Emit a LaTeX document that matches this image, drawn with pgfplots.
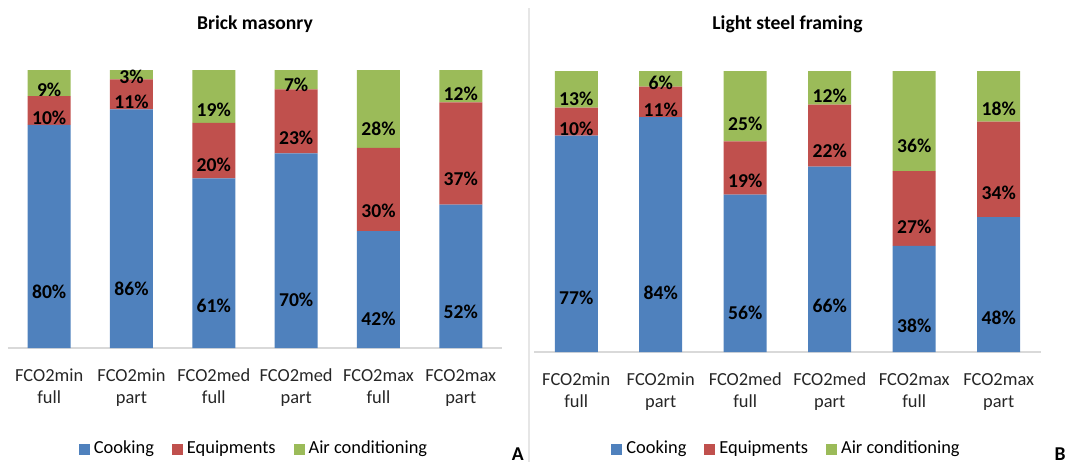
\documentclass[border=0pt]{standalone}
\usepackage{pgfplots}
\pgfplotsset{compat=1.18}
\usepackage{pgfplotstable}
\usepackage{fontspec}
\setmainfont{Carlito}
\definecolor{cblue}{HTML}{4F81BD}
\definecolor{cred}{HTML}{C0504D}
\definecolor{cgreen}{HTML}{9BBB59}
\definecolor{axgray}{HTML}{D9D9D9}
\definecolor{divgray}{HTML}{E6E6E6}

% Brick masonry: cooking, equipments, air conditioning (percent)
\pgfplotstableread{
x c e a
0 80.3 10.3 9.4
1 85.8 10.8 3.4
2 61 20 19
3 70 23 7
4 42 30 28
5 51.6 36.8 11.6
}\brick

% Light steel framing
\pgfplotstableread{
x c e a
0 77 10 13
1 83.6 10.8 5.6
2 56 19 25
3 66 22 12
4 37.8 26.6 35.6
5 48 34 18
}\steel

\newcommand{\fs}{\fontsize{9.2pt}{11pt}\selectfont}
\newcommand{\fb}{\fontsize{9.8pt}{11.5pt}\selectfont\bfseries}

\pgfplotsset{
  panel/.style={
    scale only axis,
    ybar stacked,
    bar width=21.5pt,
    ymin=0, ymax=100,
    xmin=-0.5, xmax=5.5,
    axis y line=none,
    axis x line*=bottom,
    x axis line style={draw=axgray, line width=0.8pt, -},
    xtick={0,...,5},
    xticklabels={{FCO2min\\full},{FCO2min\\part},{FCO2med\\full},{FCO2med\\part},{FCO2max\\full},{FCO2max\\part}},
    xticklabel style={align=center, font=\fs, yshift=-7pt, text=black!85},
    major tick length=0pt,
    title style={anchor=center, at={(0.5,1)}},
    legend style={draw=none, fill=none, legend columns=-1, font=\fs, anchor=center, at={(0.5,0)},
      /tikz/every even column/.append style={column sep=7pt}},
    legend cell align=left,
    nodes near coords={\pgfmathprintnumber[fixed,precision=0,assume math mode=true]{\pgfplotspointmeta}\%},
    nodes near coords style={font=\fb, anchor=center, text=black},
    every node near coord/.append style={shift={(axis direction cs:0,-\rawy)}},
  },
  seg/.style={draw=none, fill=#1,
    legend image code/.code={\fill[##1] (0pt,-2.75pt) rectangle (5.5pt,2.75pt);}},
  lab/.style={point meta=\thisrow{#1}, visualization depends on={0.25*\thisrow{#1}\as\rawy}},
}

\begin{document}
\begin{tikzpicture}
\path (0,0) rectangle (533.5pt,231pt);
\draw[divgray, line width=1pt] (264.5pt,0) -- (264.5pt,227pt);

\begin{axis}[panel, at={(4pt,57pt)}, anchor=south west, width=247pt, height=139pt,
  title={\fb Brick masonry}, title style={yshift=17pt},
  legend style={yshift=-50.5pt}]
\addplot[seg=cblue, lab=c] table[x=x, y=c] {\brick};
\addplot[seg=cred, lab=e] table[x=x, y=e] {\brick};
\addplot[seg=cgreen, lab=a] table[x=x, y=a] {\brick};
\legend{Cooking, Equipments, Air conditioning}
\end{axis}

\begin{axis}[panel, at={(267pt,55pt)}, anchor=south west, width=253.5pt, height=140.5pt,
  title={\fb Light steel framing}, title style={yshift=17.5pt},
  legend style={yshift=-48.5pt}]
\addplot[seg=cblue, lab=c] table[x=x, y=c] {\steel};
\addplot[seg=cred, lab=e] table[x=x, y=e] {\steel};
\addplot[seg=cgreen, lab=a] table[x=x, y=a] {\steel};
\legend{Cooking, Equipments, Air conditioning}
\end{axis}

\node[font=\fb, inner sep=0pt] at (258.9pt,4pt) {A};
\node[font=\fb, inner sep=0pt] at (530pt,4pt) {B};
\end{tikzpicture}
\end{document}
